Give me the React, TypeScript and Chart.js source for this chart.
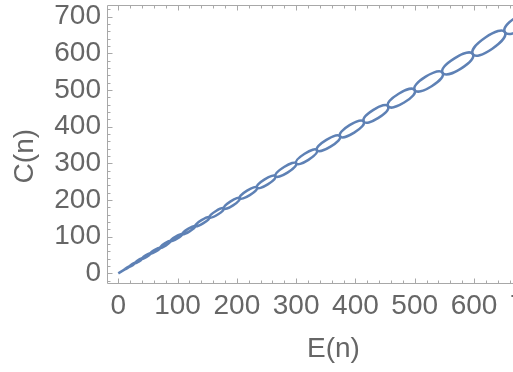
import React, { useEffect, useRef } from "react";
import { Chart, registerables } from "chart.js";

Chart.register(...registerables);

// Pinch points (nodes) of the chain of loops: E(n), C(n)
const nodeE = [0, 11, 19, 29, 40, 54, 71, 88, 108, 130, 154, 178, 205, 234, 265, 300, 335, 374, 414, 455, 500, 547, 598, 652, 706];
const nodeC = [0, 11, 19, 29, 40, 54, 70, 88, 107, 129, 153, 177, 205, 234, 265, 300, 336, 374, 414, 456, 500, 547, 598, 658, 712];

// Upper-left arc midpoint of each loop
const upperE = [5.5, 14.65, 23.5, 33.8, 46.2, 61.6, 78.5, 96.9, 117.7, 140.4, 164.2, 189.5, 217.2, 246.9, 279.6, 314.3, 351, 390.1, 430.3, 472.9, 518.5, 567.1, 619.2, 673];
const upperC = [5.5, 15.9, 25.4, 36.4, 49.1, 64.4, 81.7, 100.5, 121.3, 145.1, 169.6, 196.4, 225.6, 256.4, 290.2, 326.4, 364.2, 404.2, 446, 490, 536.5, 586.5, 643.1, 700.8];

// Lower-right arc midpoint of each loop
const lowerE = [5.5, 15.35, 24.5, 35.2, 47.8, 63.4, 80.5, 99.1, 120.3, 143.6, 167.8, 193.6, 221.8, 252.1, 285.4, 320.7, 358, 397.9, 438.7, 482.1, 528.5, 577.9, 630.8, 685];
const lowerC = [5.5, 14.1, 22.6, 32.6, 44.9, 59.6, 76.3, 94.6, 114.7, 136.9, 160.4, 185.6, 213.4, 242.6, 274.8, 309.6, 345.8, 383.8, 424, 466, 510.5, 558.5, 612.9, 669.2];

const xMajorTicks = [0, 100, 200, 300, 400, 500, 600, 700];
const yMajorTicks = [0, 100, 200, 300, 400, 500, 600, 700];

const FONT = "'Liberation Sans', Arial, sans-serif";
const LABEL_COLOR = "#666666";
const FRAME_COLOR = "#a8a8a8";
const LINE_COLOR = "#5E81B5";

// Each loop is listed as lower, node k, upper, node k+1, lower, node k, upper, gap.
// The first and last pieces only serve to give the spline smooth tangents and are hidden.
const PER_LOOP = 8;
function buildPoints() {
  const pts: { x: number | null; y: number | null }[] = [];
  for (let k = 0; k < upperE.length; k++) {
    pts.push({ x: lowerE[k], y: lowerC[k] });
    pts.push({ x: nodeE[k], y: nodeC[k] });
    pts.push({ x: upperE[k], y: upperC[k] });
    pts.push({ x: nodeE[k + 1], y: nodeC[k + 1] });
    pts.push({ x: lowerE[k], y: lowerC[k] });
    pts.push({ x: nodeE[k], y: nodeC[k] });
    pts.push({ x: upperE[k], y: upperC[k] });
    pts.push({ x: null, y: null });
  }
  return pts;
}

const framePlugin = {
  id: "mmaFrame",
  beforeDatasetsDraw(chart: any) {
    const { ctx, chartArea: a, scales } = chart;
    const xs = scales.x;
    const ys = scales.y;
    ctx.save();
    ctx.strokeStyle = FRAME_COLOR;
    ctx.lineWidth = 1;
    const L = a.left + 0.5;
    const R = a.right - 0.5;
    const T = a.top + 0.5;
    const B = a.bottom - 0.5;
    ctx.beginPath();
    ctx.rect(L, T, R - L, B - T);
    ctx.stroke();
    ctx.beginPath();
    const majorLen = 5;
    const minorLen = 3;
    for (let v = -20; v <= 760; v += 20) {
      if (v < xs.min || v > xs.max) continue;
      const px = Math.round(xs.getPixelForValue(v)) + 0.5;
      const len = xMajorTicks.includes(v) ? majorLen : minorLen;
      ctx.moveTo(px, B);
      ctx.lineTo(px, B - len);
      ctx.moveTo(px, T);
      ctx.lineTo(px, T + len);
    }
    for (let v = -20; v <= 740; v += 20) {
      if (v < ys.min || v > ys.max) continue;
      const py = Math.round(ys.getPixelForValue(v)) + 0.5;
      const len = yMajorTicks.includes(v) ? majorLen : minorLen;
      ctx.moveTo(L, py);
      ctx.lineTo(L + len, py);
      ctx.moveTo(R, py);
      ctx.lineTo(R - len, py);
    }
    ctx.stroke();
    ctx.restore();
  },
};

export default function App() {
  const ref = useRef<HTMLCanvasElement | null>(null);

  useEffect(() => {
    const canvas = ref.current;
    if (!canvas) return;
    const chart = new Chart(canvas, {
      type: "scatter",
      data: {
        datasets: [
          {
            data: buildPoints() as any,
            showLine: true,
            borderColor: LINE_COLOR,
            borderWidth: 2.5,
            tension: 0.62,
            pointRadius: 0,
            pointHoverRadius: 0,
            spanGaps: false,
            fill: false,
            segment: {
              borderColor: (c: any) => {
                const r = c.p0DataIndex % PER_LOOP;
                return r === 0 || r === 5 ? "rgba(0,0,0,0)" : LINE_COLOR;
              },
            },
          } as any,
        ],
      },
      options: {
        responsive: false,
        animation: false,
        devicePixelRatio: 1,
        events: [],
        layout: { padding: { left: 0, top: 5, right: 10, bottom: 0 } },
        plugins: {
          legend: { display: false },
          tooltip: { enabled: false },
        },
        scales: {
          x: {
            type: "linear",
            min: -19,
            max: 745,
            grid: { display: false, drawTicks: false },
            border: { display: false },
            ticks: {
              stepSize: 100,
              includeBounds: false,
              autoSkip: false,
              maxRotation: 0,
              padding: 5,
              color: LABEL_COLOR,
              font: { family: FONT, size: 28 },
            },
            title: {
              display: true,
              text: "E(n)",
              color: LABEL_COLOR,
              font: { family: FONT, size: 28 },
              padding: { top: 0, bottom: 6 },
            },
            afterFit(s: any) {
              s.height = 88;
              s.paddingLeft = 0;
              s.paddingRight = 0;
            },
          },
          y: {
            type: "linear",
            min: -29,
            max: 732,
            grid: { display: false, drawTicks: false },
            border: { display: false },
            ticks: {
              stepSize: 100,
              includeBounds: false,
              autoSkip: false,
              padding: 6,
              color: LABEL_COLOR,
              font: { family: FONT, size: 28 },
            },
            title: {
              display: true,
              text: "C(n)   ",
              color: LABEL_COLOR,
              font: { family: FONT, size: 28 },
              padding: { top: 8, bottom: 0 },
            },
            afterFit(s: any) {
              s.width = 107;
              s.paddingTop = 0;
              s.paddingBottom = 0;
            },
          },
        },
      },
      plugins: [framePlugin],
    });
    return () => chart.destroy();
  }, []);

  return (
    <div
      style={{
        position: "fixed",
        left: 0,
        top: 0,
        width: 513,
        height: 372,
        overflow: "hidden",
        background: "#ffffff",
      }}
    >
      <canvas ref={ref} width={570} height={372} style={{ width: 570, height: 372, display: "block" }} />
    </div>
  );
}
